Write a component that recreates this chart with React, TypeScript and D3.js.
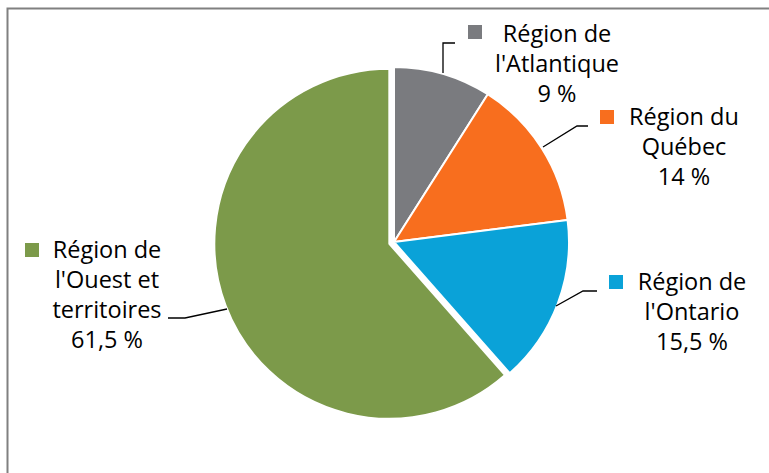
import React from "react";
import * as d3 from "d3";

const regions = ["Région de l'Atlantique", "Région du Québec", "Région de l'Ontario", "Région de l'Ouest et territoires"];
const values = [9, 14, 15.5, 61.5];
const valueLabels = ["9 %", "14 %", "15,5 %", "61,5 %"];
const labelLines = [
  ["Région de", "l'Atlantique", "9 %"],
  ["Région du", "Québec", "14 %"],
  ["Région de", "l'Ontario", "15,5 %"],
  ["Région de", "l'Ouest et", "territoires", "61,5 %"],
];
const colors = ["#7a7b7f", "#f86e1e", "#0aa2d8", "#7c9a4a"];

const W = 769, H = 473;
const cx = 394, cy = 242, R = 175;
const explode = [0, 0, 0, 5];

// label layout: center x of text, first baseline, square position, leader polyline
const labelPos = [
  { tx: 557, ty: 42, sq: [468, 25], leader: [[455, 43], [443, 43], [443, 73]] },
  { tx: 684, ty: 125, sq: [600, 110], leader: [[588, 126], [577, 126], [543, 147]] },
  { tx: 692, ty: 290, sq: [609, 275], leader: [[597, 291], [583, 291], [556, 306]] },
  { tx: 107, ty: 258, sq: [25, 243], leader: [[168, 318], [185, 318], [227, 309]] },
];

export default function App() {
  const pie = d3.pie<number>().sort(null).value((d) => d)(values);
  const arc = d3.arc<d3.PieArcDatum<number>>().innerRadius(0).outerRadius(R);
  const line = d3.line();
  const font = "'Open Sans', 'Liberation Sans', Arial, sans-serif";
  return (
    <svg width={W} height={H} style={{ position: "absolute", left: 0, top: 0, background: "#fff" }}>
      <rect x={7.5} y={8.5} width={W + 20} height={H + 20} fill="#fff" stroke="#808080" strokeWidth={2} />
      <g transform={`translate(${cx},${cy})`}>
        {pie.map((p, i) => {
          const mid = (p.startAngle + p.endAngle) / 2;
          const dx = Math.sin(mid) * explode[i];
          const dy = -Math.cos(mid) * explode[i];
          return (
            <path
              key={regions[i]}
              d={arc(p) || ""}
              transform={`translate(${dx},${dy})`}
              fill={colors[i]}
              stroke="#fff"
              strokeWidth={2}
              strokeLinejoin="round"
            />
          );
        })}
      </g>
      {labelPos.map((lp, i) => (
        <g key={i}>
          <path d={line(lp.leader as [number, number][]) || ""} fill="none" stroke="#000" strokeWidth={1.3} />
          <rect x={lp.sq[0]} y={lp.sq[1]} width={14} height={14} fill={colors[i]} />
          <text fontFamily={font} fontSize={23.5} fill="#000" textAnchor="middle">
            {labelLines[i].map((t, j) => (
              <tspan key={j} x={lp.tx} y={lp.ty + j * 30}>
                {t}
              </tspan>
            ))}
          </text>
        </g>
      ))}
    </svg>
  );
}
